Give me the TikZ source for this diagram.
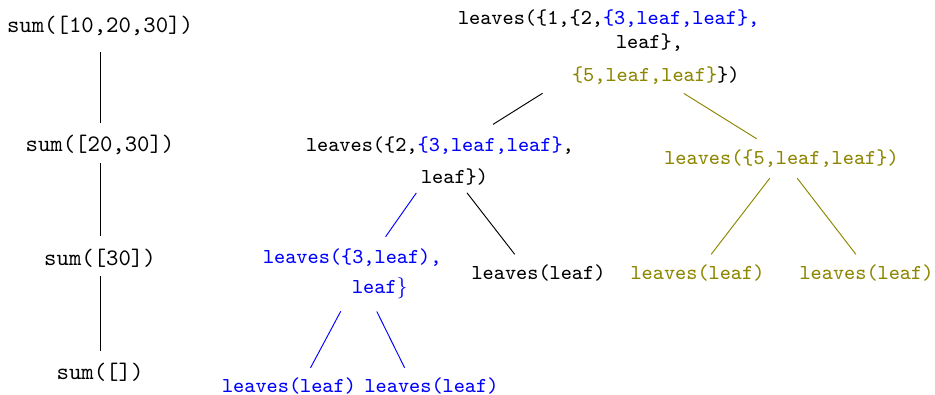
\documentclass[tikz,border=0pt]{standalone}
\usepackage{fontspec}
\usetikzlibrary{calc}
\begin{document}
\begin{tikzpicture}[x=0.4234pt,y=-0.4234pt,
  every node/.style={inner sep=0pt, outer sep=0pt, font=\ttfamily},
  rt/.style={font=\small\ttfamily},
  ml/.style={rt, align=left, anchor=north west},
  conn/.style={line width=0.4pt}]
\useasboundingbox (0,0) rectangle (935,394);
% left tree
\node (s1) at (100,26) {sum([10,20,30])};
\node (s2) at (100,144.5) {sum([20,30])};
\node (s3) at (100,258) {sum([30])};
\node (s4) at (100,372) {sum([])};
\draw[conn, shorten <=6.8pt, shorten >=5.1pt] (s1.south) -- (s2.north);
\draw[conn, shorten <=3.8pt, shorten >=5.3pt] (s2.south) -- (s3.north);
\draw[conn, shorten <=3.8pt, shorten >=5.1pt] (s3.south) -- (s4.north);
% right tree
\node[ml] (root) at (458,10) {leaves(\{1,\{2,\textcolor{blue}{\{3,leaf,leaf\},}\\[-0.8pt]\hspace*{66.9pt}leaf\},\\[3pt]\hspace*{48.3pt}\textcolor{olive}{\{5,leaf,leaf\}}\})};
\node[ml] (n2) at (306,136.7) {leaves(\{2,\textcolor{blue}{\{3,leaf,leaf\}},\\[2.4pt]\hspace*{48.7pt}leaf\})};
\node[ml, text=blue] (n3) at (263,248.3) {leaves(\{3,leaf),\\[1.7pt]\hspace*{37.7pt}leaf$\}$};
\node[rt] (n4) at (538.5,272.5) {leaves(leaf)};
\node[rt, text=olive] (n5) at (781.5,159) {leaves(\{5,leaf,leaf\})};
\node[rt, text=blue] (b1) at (289,386) {leaves(leaf)};
\node[rt, text=blue] (b2) at (431.5,386) {leaves(leaf)};
\node[rt, text=olive] (o1) at (697.5,272.5) {leaves(leaf)};
\node[rt, text=olive] (o2) at (866.5,272.5) {leaves(leaf)};
\draw[conn, shorten <=6.7pt, shorten >=9.8pt] ($(root.south west)!0.325!(root.south east)$) -- ($(n2.north west)!0.625!(n2.north east)$);
\draw[conn, olive, shorten <=6.8pt, shorten >=9.1pt] ($(root.south west)!0.704!(root.south east)$) -- ($(n5.north west)!0.472!(n5.north east)$);
\draw[conn, blue, shorten <=4.2pt, shorten >=6.0pt] ($(n2.south west)!0.433!(n2.south east)$) -- ($(n3.north west)!0.641!(n3.north east)$);
\draw[conn, shorten <=4.25pt, shorten >=5.3pt] ($(n2.south west)!0.578!(n2.south east)$) -- ($(n4.north west)!0.380!(n4.north east)$);
\draw[conn, blue, shorten <=6.2pt, shorten >=4.7pt] ($(n3.south west)!0.474!(n3.south east)$) -- ($(b1.north west)!0.621!(b1.north east)$);
\draw[conn, blue, shorten <=6.2pt, shorten >=4.7pt] ($(n3.south west)!0.601!(n3.south east)$) -- ($(b2.north west)!0.336!(b2.north east)$);
\draw[conn, olive, shorten <=5.5pt, shorten >=5.3pt] ($(n5.south west)!0.484!(n5.south east)$) -- ($(o1.north west)!0.545!(o1.north east)$);
\draw[conn, olive, shorten <=5.5pt, shorten >=5.3pt] ($(n5.south west)!0.533!(n5.south east)$) -- ($(o2.north west)!0.478!(o2.north east)$);
\end{tikzpicture}
\end{document}
